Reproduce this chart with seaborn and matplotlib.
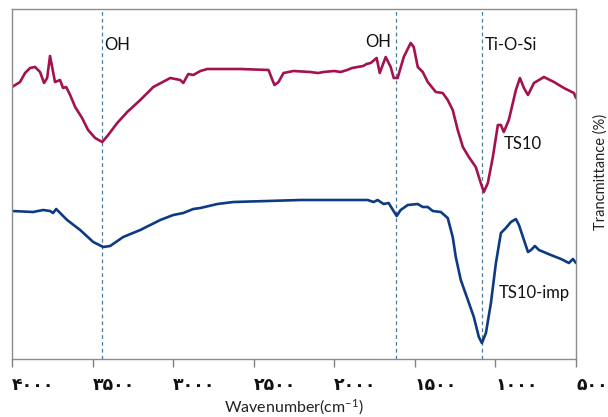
import matplotlib
matplotlib.use("Agg")
import matplotlib.pyplot as plt
import matplotlib.transforms as mtransforms
import seaborn as sns
import pandas as pd

# ---- data ----
ts10_wn = [4000, 3950, 3919, 3888, 3857, 3826, 3801, 3782, 3764, 3745, 3733, 3702, 3683,
           3664, 3639, 3608, 3565, 3528, 3484, 3440, 3403, 3347, 3285, 3204, 3123, 3018,
           2956, 2937, 2906, 2875, 2831, 2788, 2583, 2408, 2384, 2371, 2346, 2315, 2253,
           2150, 2100, 2067, 2000, 1961, 1920, 1890, 1855, 1820, 1800, 1774, 1737, 1718,
           1681, 1650, 1631, 1607, 1569, 1526, 1507, 1482, 1451, 1420, 1370, 1327, 1296,
           1265, 1234, 1202, 1165, 1122, 1091, 1072, 1047, 1016, 985, 966, 948, 917, 873,
           848, 823, 798, 761, 699, 637, 575, 513, 500]
ts10_t = [272, 277, 286, 291, 292, 287, 276, 281, 303, 287, 277, 279, 271,
          272, 264, 252, 241, 229, 221, 217, 224, 236, 247, 259, 272, 281,
          279, 276, 285, 284, 288, 290, 290, 289, 279, 274, 277, 286, 288,
          287, 286, 287, 288, 287, 289, 291, 292, 293, 295, 296, 301, 286,
          302, 292, 281, 281, 302, 316, 312, 292, 287, 277, 267, 266, 259,
          249, 229, 212, 202, 192, 176, 167, 176, 202, 234, 234, 227, 239, 269,
          281, 271, 264, 276, 282, 277, 271, 266, 261]

imp_wn = [4000, 3869, 3807, 3764, 3745, 3726, 3658, 3577, 3496, 3434, 3391, 3310, 3204,
          3080, 2999, 2937, 2875, 2831, 2726, 2626, 2415, 2210, 1793, 1756, 1731, 1694,
          1663, 1613, 1588, 1544, 1482, 1451, 1420, 1389, 1339, 1296, 1265, 1246, 1215,
          1171, 1134, 1103, 1084, 1059, 1028, 997, 966, 935, 904, 873, 854, 823, 798, 779,
          755, 730, 656, 593, 544, 519, 500]
imp_t = [148, 147, 149, 148, 146, 150, 139, 129, 117, 112, 113, 122, 129,
         139, 144, 146, 150, 151, 155, 157, 158, 159, 159, 157, 159, 155,
         156, 143, 149, 154, 155, 152, 152, 148, 147, 141, 122, 102, 79,
         59, 42, 22, 16, 26, 56, 96, 126, 131, 137, 140, 134, 119, 107, 109,
         113, 109, 104, 100, 96, 100, 96]

peak_lines = [3440, 1620, 1082]
tick_values = [4000, 3500, 3000, 2500, 2000, 1500, 1000, 500]
tick_labels = ["۴۰۰۰", "۳۵۰۰", "۳۰۰۰", "۲۵۰۰", "۲۰۰۰", "۱۵۰۰", "۱۰۰۰", "۵۰۰"]

annotations = [("OH", 3428, 314), ("OH", 1806, 317), ("Ti-O-Si", 1066, 314),
               ("TS10", 948, 215), ("TS10-imp", 979, 66)]

# ---- style ----
sns.set_theme(style="white")
plt.rcParams["font.family"] = ["Lato", "DejaVu Sans"]
plt.rcParams["mathtext.fontset"] = "custom"
plt.rcParams["mathtext.rm"] = "Lato"
plt.rcParams["mathtext.it"] = "Lato"

fig = plt.figure(figsize=(6.08, 4.17), dpi=100)
ax = fig.add_axes([12 / 608, 1 - 359 / 417, 564 / 608, 350 / 417])

df1 = pd.DataFrame({"wn": ts10_wn, "t": ts10_t})
df2 = pd.DataFrame({"wn": imp_wn, "t": imp_t})
sns.lineplot(data=df1, x="wn", y="t", ax=ax, color="#A3124F", lw=1.9, sort=False)
sns.lineplot(data=df2, x="wn", y="t", ax=ax, color="#0E3A84", lw=1.9, sort=False)

for w in peak_lines:
    ax.axvline(w, color="#4A7BA3", lw=0.9, ls=(0, (3, 2.5)), zorder=1)

ax.set_xlim(4000, 500)
ax.set_ylim(0, 350)
ax.set_yticks([])
ax.set_xticks(tick_values)
ax.set_xticklabels(tick_labels, family="DejaVu Sans", fontweight="bold",
                   fontsize=12.5, color="#111111", ha="left")
offset = mtransforms.ScaledTranslation(-4 / 100, 0, fig.dpi_scale_trans)
for lab in ax.get_xticklabels():
    lab.set_transform(lab.get_transform() + offset)
ax.tick_params(axis="x", direction="out", length=6, width=1, color="#808080",
               bottom=True, pad=6)

for s in ax.spines.values():
    s.set_color("#8C8C8C")
    s.set_linewidth(1.0)

ax.set_xlabel("Wavenumber(cm$^{-1}$)", fontsize=11.5, color="#222222", labelpad=3)
ax.yaxis.set_label_position("right")
ax.set_ylabel("Trancmittance (%)", fontsize=10.5, color="#222222")
ax.yaxis.set_label_coords(1.031, 0.534)

for txt, x, y in annotations:
    ax.text(x, y, txt, fontsize=12, color="#111111", ha="left", va="center")

fig.savefig("out.png", dpi=100)
